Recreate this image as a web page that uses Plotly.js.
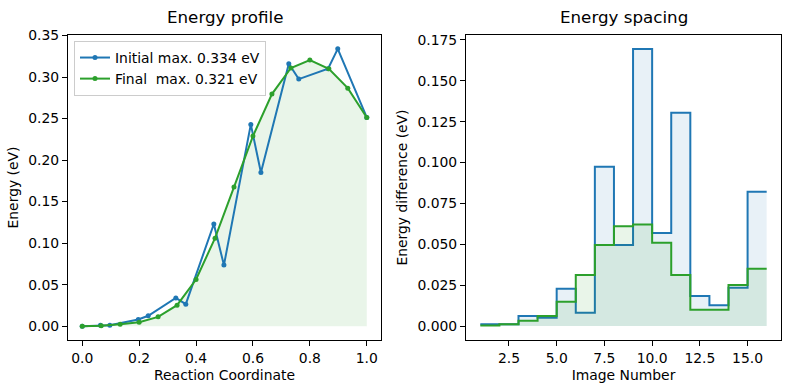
<!DOCTYPE html>
<html>
<head>
<meta charset="utf-8">
<script src="https://cdn.plot.ly/plotly-3.0.1.min.js"></script>
<style>html,body{margin:0;padding:0;background:#fff;}#chart{width:787px;height:390px;}</style>
</head>
<body>
<div id="chart"></div>
<script>
// Left panel: energy profile
const initialCoord = [0, 0.064, 0.097, 0.197, 0.232, 0.329, 0.364, 0.4625, 0.498, 0.5925, 0.628, 0.726, 0.761, 0.864, 0.898, 1.0];
const initialEnergy = [0, 0.0012, 0.0012, 0.008, 0.0125, 0.034, 0.0265, 0.123, 0.0735, 0.243, 0.185, 0.316, 0.2976, 0.310, 0.334, 0.2514];
const finalCoord = [0, 0.0667, 0.1333, 0.2, 0.2667, 0.3333, 0.4, 0.4667, 0.5333, 0.6, 0.6667, 0.7333, 0.8, 0.8667, 0.9333, 1.0];
const finalEnergy = [0, 0.0004, 0.0024, 0.0048, 0.0112, 0.0253, 0.0562, 0.106, 0.1675, 0.229, 0.2795, 0.311, 0.3205, 0.310, 0.2867, 0.2514];
const legendInitial = "Initial max. 0.334 eV";
const legendFinal = "Final\u00a0 max. 0.321 eV";

// Right panel: energy spacing (bin edges = image numbers)
const imageEdges = [1, 2, 3, 4, 5, 6, 7, 8, 9, 10, 11, 12, 13, 14, 15, 16];
const initialSpacing = [0.0012, 0.0012, 0.0061, 0.0051, 0.0229, 0.0082, 0.0974, 0.0496, 0.1695, 0.057, 0.1305, 0.0184, 0.0127, 0.0235, 0.0821];
const finalSpacing = [0.0004, 0.0012, 0.0033, 0.0061, 0.0149, 0.0312, 0.0496, 0.0611, 0.0621, 0.051, 0.0312, 0.010, 0.010, 0.0251, 0.0351];

const leftTicksX = [0.0, 0.2, 0.4, 0.6, 0.8, 1.0];
const leftTicksY = [0.00, 0.05, 0.10, 0.15, 0.20, 0.25, 0.30, 0.35];
const rightTicksX = [2.5, 5.0, 7.5, 10.0, 12.5, 15.0];
const rightTicksY = [0.000, 0.025, 0.050, 0.075, 0.100, 0.125, 0.150, 0.175];

const BLUE = '#1f77b4', GREEN = '#2ca02c';
const FONT = 'DejaVu Sans, sans-serif';

function stairsY(v) { return v.concat([v[v.length - 1]]); }

const traces = [
  {x: finalCoord, y: finalEnergy, xaxis: 'x', yaxis: 'y', mode: 'none', fill: 'tozeroy',
   fillcolor: 'rgba(44,160,44,0.1)', showlegend: false, hoverinfo: 'skip'},
  {x: initialCoord, y: initialEnergy, xaxis: 'x', yaxis: 'y', mode: 'lines+markers', name: legendInitial,
   line: {color: BLUE, width: 2}, marker: {color: BLUE, size: 5}},
  {x: finalCoord, y: finalEnergy, xaxis: 'x', yaxis: 'y', mode: 'lines+markers', name: legendFinal,
   line: {color: GREEN, width: 2}, marker: {color: GREEN, size: 5}},
  {x: imageEdges, y: stairsY(initialSpacing), xaxis: 'x2', yaxis: 'y2', mode: 'lines', fill: 'tozeroy',
   fillcolor: 'rgba(31,119,180,0.1)', line: {color: BLUE, width: 2, shape: 'hv'}, showlegend: false},
  {x: imageEdges, y: stairsY(finalSpacing), xaxis: 'x2', yaxis: 'y2', mode: 'lines', fill: 'tozeroy',
   fillcolor: 'rgba(44,160,44,0.1)', line: {color: GREEN, width: 2, shape: 'hv'}, showlegend: false}
];

const axisCommon = {
  showline: true, mirror: true, linecolor: '#000', linewidth: 1,
  ticks: 'outside', ticklen: 5, tickwidth: 1, tickcolor: '#000',
  showgrid: false, zeroline: false,
  tickfont: {family: FONT, size: 13.9, color: '#000'}
};

const H = 390, W = 787;
const yDom = [(H - 340) / H, (H - 35) / H];

const layout = {
  width: W, height: H,
  margin: {l: 0, r: 0, t: 0, b: 0},
  paper_bgcolor: '#fff', plot_bgcolor: '#fff',
  font: {family: FONT, color: '#000'},
  showlegend: true,
  legend: {x: 74 / W, y: (H - 41) / H, xanchor: 'left', yanchor: 'top',
           bgcolor: 'rgba(255,255,255,0.8)', bordercolor: '#cccccc', borderwidth: 1,
           font: {family: FONT, size: 13.9, color: '#000'}, tracegroupgap: 0},
  xaxis: Object.assign({}, axisCommon, {domain: [68 / W, 381 / W], range: [-0.05, 1.05],
    tickvals: leftTicksX, tickformat: '.1f', anchor: 'y',
    title: {text: 'Reaction Coordinate', font: {family: FONT, size: 13.9}, standoff: 5}}),
  yaxis: Object.assign({}, axisCommon, {domain: yDom, range: [-0.0167, 0.3507],
    tickvals: leftTicksY, tickformat: '.2f', anchor: 'x',
    title: {text: 'Energy (eV)', font: {family: FONT, size: 13.9}, standoff: 6}}),
  xaxis2: Object.assign({}, axisCommon, {domain: [466 / W, 781 / W], range: [0.25, 16.75],
    tickvals: rightTicksX, tickformat: '.1f', anchor: 'y2',
    title: {text: 'Image Number', font: {family: FONT, size: 13.9}, standoff: 5}}),
  yaxis2: Object.assign({}, axisCommon, {domain: yDom, range: [-0.0085, 0.178],
    tickvals: rightTicksY, tickformat: '.3f', anchor: 'x2',
    title: {text: 'Energy difference (eV)', font: {family: FONT, size: 13.9}, standoff: 6}}),
  annotations: [
    {text: 'Energy profile', xref: 'paper', yref: 'paper', x: (68 + 381) / 2 / W, y: (H - 29) / H,
     xanchor: 'center', yanchor: 'bottom', showarrow: false, font: {family: FONT, size: 16.7, color: '#000'}},
    {text: 'Energy spacing', xref: 'paper', yref: 'paper', x: (466 + 781) / 2 / W, y: (H - 29) / H,
     xanchor: 'center', yanchor: 'bottom', showarrow: false, font: {family: FONT, size: 16.7, color: '#000'}}
  ]
};

Plotly.newPlot('chart', traces, layout, {displayModeBar: false, staticPlot: true});
</script>
</body>
</html>
